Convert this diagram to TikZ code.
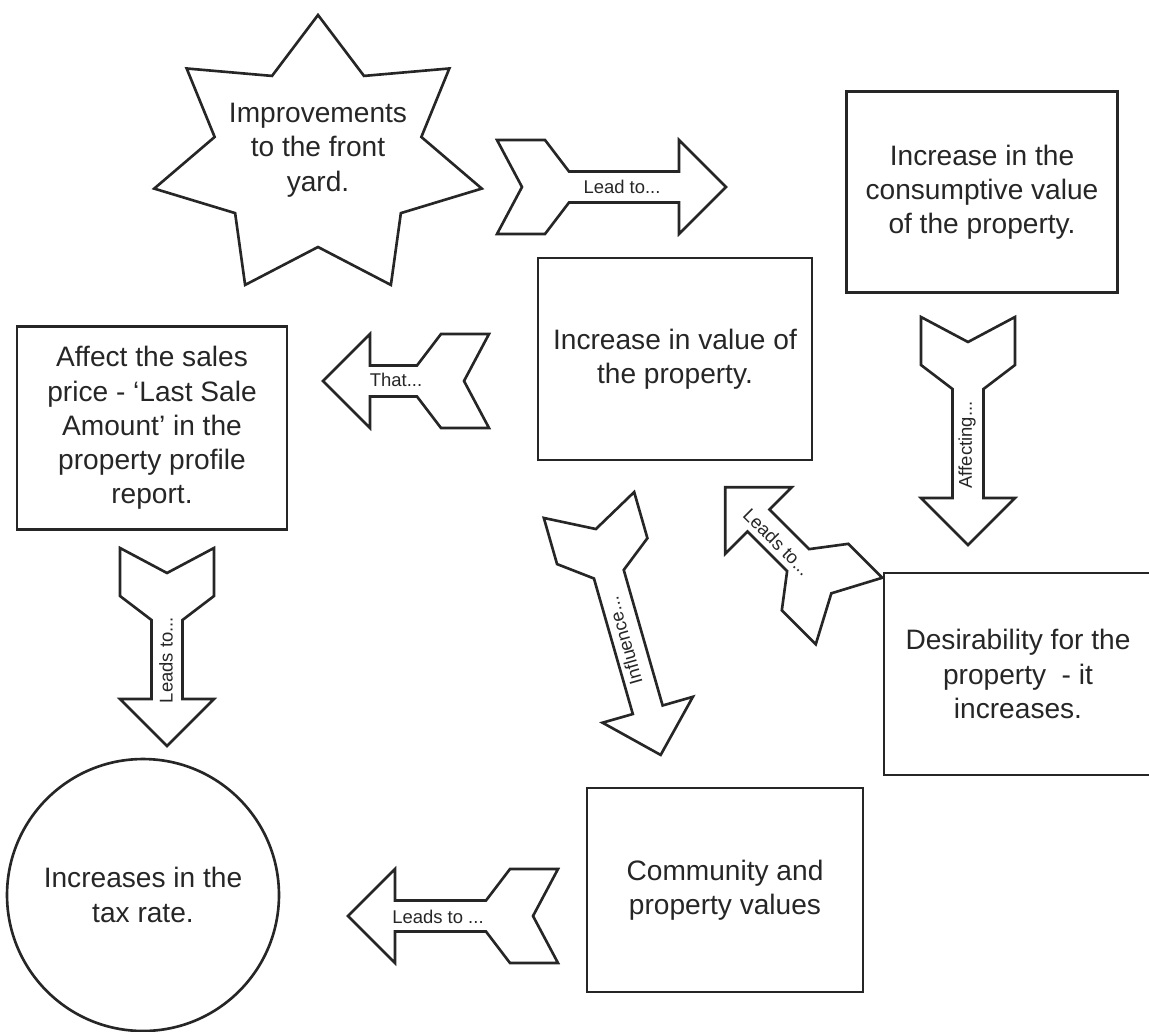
\documentclass[tikz,border=0pt]{standalone}
\usepackage{fontspec}
\setmainfont{Liberation Sans}

\tikzset{
  outline/.style={draw=black!85, line width=1.5pt, line join=miter},
  boxnode/.style={outline, align=center, inner sep=0pt, text=black!85,
    font=\fontsize{16}{19.5}\selectfont},
  arrowtext/.style={inner sep=0pt, text=black!85, font=\fontsize{10.5}{12}\selectfont},
  % block arrow with a notched tail, tail at the origin, tip at (#1,0)
  pics/fletch/.style={code={
    \draw[outline] (0,-47) -- (48,-47) -- (72,-15.5) -- (#1-47,-15.5) -- (#1-47,-47)
      -- (#1,0) -- (#1-47,47) -- (#1-47,15.5) -- (72,15.5) -- (48,47) -- (0,47)
      -- (25,0) -- cycle;
  }}
}

\begin{document}
\begin{tikzpicture}[x=0.02cm, y=-0.02cm]

        \useasboundingbox (0,0) rectangle (1149,1031);

        % Draw the star
        \draw[outline] (318,15) \foreach \k [evaluate=\k as \rx using {168-62*mod(\k,2)},
            evaluate=\k as \ry using {142-52*mod(\k,2)}] in {1,...,13}
            { -- ({318+\rx*cos(90+\k*360/14)}, {157-\ry*sin(90+\k*360/14)}) } -- cycle;
        \node[boxnode, draw=none] (Yard) at (318,150) {Improvements\\to the front\\yard.};

        % Draw the boxes and the circle
        \node[boxnode, minimum width=5.42cm, minimum height=4.02cm] (Consumptive) at (982,192) {Increase in the\\consumptive value\\of the property.};
        \node[boxnode, minimum width=5.48cm, minimum height=4.04cm] (PropertyValue) at (675,359) {Increase in value of\\the property.};
        \node[boxnode, minimum width=5.40cm, minimum height=4.06cm] (SalesPrice) at (152,428) {Affect the sales\\price - ‘Last Sale\\Amount’ in the\\property profile\\report.};
        \node[boxnode, minimum width=5.36cm, minimum height=4.04cm] (Desirability) at (1018,674) {Desirability for the\\property~ - it\\increases.};
        \node[boxnode, minimum width=5.52cm, minimum height=4.08cm] (Community) at (725,890) {Community and\\property values};
        \node[boxnode, circle, minimum size=5.44cm] (TaxRate) at (143,895) {Increases in the\\tax rate.};

        % Draw the block arrows
        \pic at (497,187) {fletch=229};
        \pic[rotate=180] at (489,381) {fletch=166};
        \pic[rotate=-90] at (968,317) {fletch=228};
        \pic[rotate=135] at (849,611) {fletch=175};
        \pic[rotate=-74] at (589,505) {fletch=260};
        \pic[rotate=180] at (558,916) {fletch=210};
        \pic[rotate=-90] at (167,548) {fletch=198};

        \node[arrowtext] (LeadTo) at (622,187) {Lead to...};
        \node[arrowtext] (That) at (396,380) {That...};
        \node[arrowtext, rotate=90] (Affecting) at (967,445) {Affecting...};
        \node[arrowtext, rotate=-45] (LeadsBack) at (777,542) {Leads to...};
        \node[arrowtext, rotate=106] (Influence) at (624,641) {Influence...};
        \node[arrowtext] (LeadsTax) at (438,917) {Leads to ...};
        \node[arrowtext, rotate=90] (LeadsDown) at (166,660) {Leads to...};

      \end{tikzpicture}
\end{document}
